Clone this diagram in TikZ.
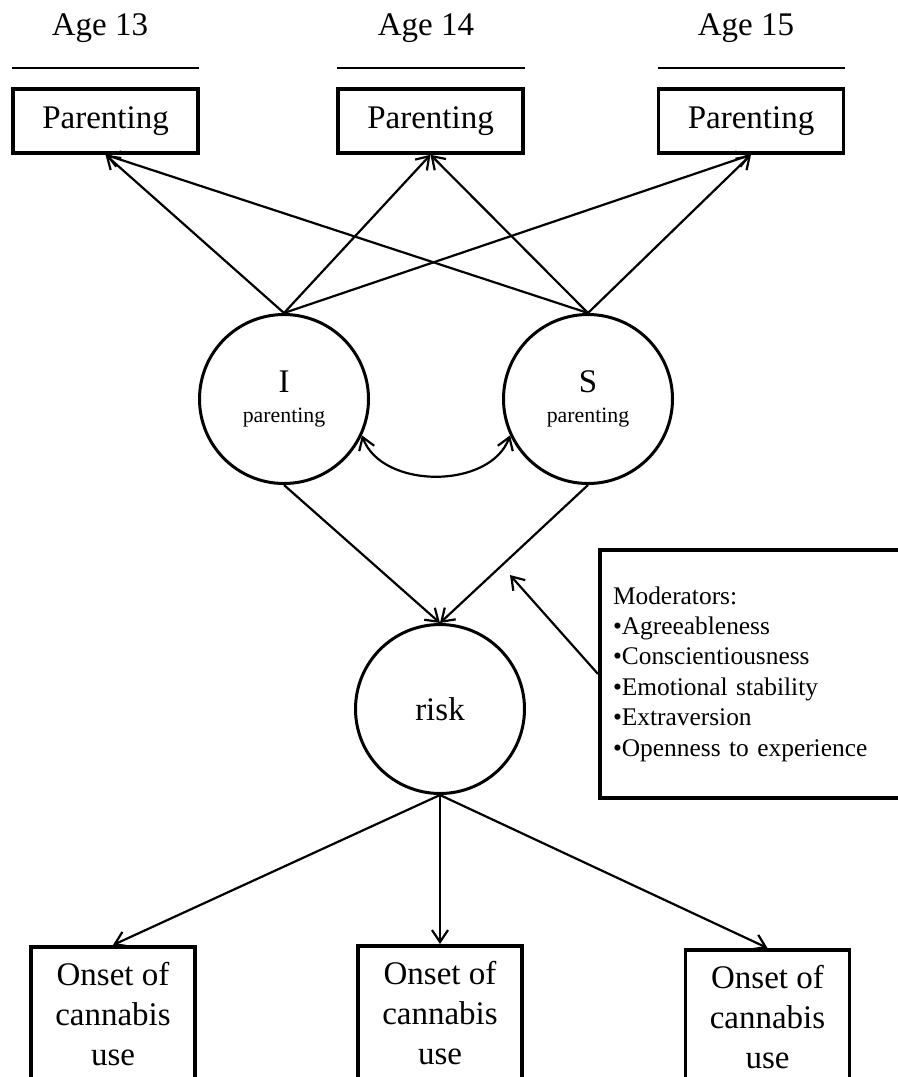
\documentclass[tikz,border=0pt]{standalone}
\usepackage{fontspec}
\setmainfont{Liberation Serif}
\usetikzlibrary{arrows.meta,calc}
\begin{document}
\begin{tikzpicture}[x=0.5pt, y=-0.5pt,
		every node/.style={text centered, font=\fontsize{16.5}{20}\selectfont},
		pbox/.style={rectangle, draw, line width=1.75pt, minimum width=92.5pt, minimum height=32pt},
		latent/.style={circle, draw, line width=1.5pt, minimum size=84.5pt, inner sep=0pt, align=center},
		onset/.style={rectangle, draw, line width=1.75pt, minimum width=82pt, inner ysep=7.75pt, align=center, anchor=north},
		barb/.tip={Straight Barb[length=6pt,width=8pt]},
		arr/.style={-barb, line width=1.1pt}]
	\useasboundingbox (0,0) rectangle (898,1077);

	% waves
	\draw (100,35)	node[anchor=base] (a13) {Age 13}
		(426,35)	node[anchor=base] (a14) {Age 14}
		(746,35)	node[anchor=base] (a15) {Age 15};
	\draw[line width=0.65pt] (12,68) -- (199,68) (337,68) -- (525,68) (658,68) -- (845,68);

	\draw (105.5,121)	node[pbox] (p1) {Parenting}
		(430.5,121)	node[pbox] (p2) {Parenting}
		(751,121)	node[pbox] (p3) {Parenting}

		(284,399)	node[latent] (I) {I\\[-5pt]{\fontsize{10.9}{13}\selectfont parenting}}
		(588,399)	node[latent] (S) {S\\[-5pt]{\fontsize{10.9}{13}\selectfont parenting}}
		(440,709)	node[latent] (risk) {risk}

		(755,674)	node[rectangle, draw, line width=2pt, minimum width=155pt, minimum height=124pt,
				text width=142pt, inner xsep=6.5pt, align=left, font=\fontsize{12.7}{15.2}\selectfont] (mod)
			{Moderators:\\•Agreeableness\\•Conscientiousness\\•Emotional stability\\•Extraversion\\•Openness to experience}

		(113,945)	node[onset] (o1) {Onset of\\cannabis\\use\rule[-12pt]{0pt}{0pt}}
		(440,944)	node[onset] (o2) {Onset of\\cannabis\\use\rule[-12pt]{0pt}{0pt}}
		(767.5,948)	node[onset] (o3) {Onset of\\cannabis\\use\rule[-12pt]{0pt}{0pt}}
;
	\coordinate (modtip) at (510,575);

	\foreach \src in {I,S}
		\foreach \dst in {p1,p2,p3}
			\draw[arr] (\src.north) -- (\dst.south);
	\draw[arr] (I.south) -- (risk.north);
	\draw[arr] (S.south) -- (risk.north);
	\draw[arr, barb-barb] (I.-25) to[out=-70, in=-110] (S.-155);
	\draw[arr] (mod.west) -- (modtip);
	\foreach \dst in {o1,o2,o3}
		\draw[arr] (risk.south) -- (\dst.north);
\end{tikzpicture}
\end{document}
